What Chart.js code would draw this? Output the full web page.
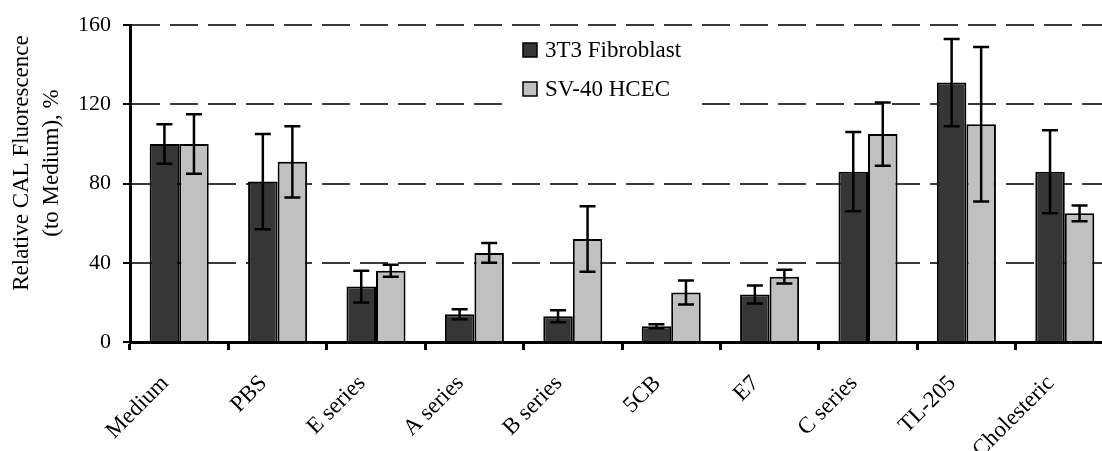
<!DOCTYPE html>
<html>
<head>
<meta charset="utf-8">
<script src="https://cdn.jsdelivr.net/npm/chart.js@4"></script>
<style>
  html, body { margin: 0; padding: 0; background: #fff; overflow: hidden; }
  #wrap { width: 1102px; height: 451px; overflow: hidden; }
</style>
</head>
<body>
<div id="wrap"><canvas id="my-chart" width="1114" height="451"></canvas></div>
<script>
const categories = ["Medium", "PBS", "E series", "A series", "B series", "5CB", "E7", "C series", "TL-205", "Cholesteric"];
const fibroblast = [100, 81, 28, 14, 13, 8, 24, 86, 131, 86];
const fibroblastErr = [10, 24, 8, 2.5, 3, 1, 4.5, 20, 22, 21];
const hcec = [100, 91, 36, 45, 52, 25, 33, 105, 110, 65];
const hcecErr = [15, 18, 3, 5, 16.5, 6, 3.5, 16, 39, 4];
const yTicks = [0, 40, 80, 120, 160];
const yTitle = ["Relative CAL Fluorescence", "(to Medium), %"];

const serif = "'Liberation Serif', 'Times New Roman', serif";

// error bars drawn on top of the bars
const errorBars = {
  id: "errorBars",
  afterDatasetsDraw(chart) {
    const ctx = chart.ctx;
    const y = chart.scales.y;
    chart.data.datasets.forEach((ds, d) => {
      const meta = chart.getDatasetMeta(d);
      meta.data.forEach((bar, i) => {
        const v = ds.data[i];
        const e = ds.errors[i];
        const top = y.getPixelForValue(v + e);
        const bottom = y.getPixelForValue(v - e);
        ctx.save();
        ctx.strokeStyle = "#000";
        ctx.lineWidth = 2.5;
        ctx.beginPath();
        ctx.moveTo(bar.x, top);
        ctx.lineTo(bar.x, bottom);
        ctx.moveTo(bar.x - 8, top);
        ctx.lineTo(bar.x + 8, top);
        ctx.moveTo(bar.x - 8, bottom);
        ctx.lineTo(bar.x + 8, bottom);
        ctx.stroke();
        ctx.restore();
      });
    });
  }
};

// legend box inside the plot and the two-line y title
const extras = {
  id: "extras",
  afterDraw(chart) {
    const ctx = chart.ctx;
    ctx.save();
    ctx.fillStyle = "#fff";
    ctx.fillRect(508, 30, 185, 80);
    chart.data.datasets.forEach((ds, i) => {
      const cy = 50 + i * 39;
      ctx.fillStyle = ds.backgroundColor;
      ctx.fillRect(523, cy - 7, 14, 14);
      ctx.strokeStyle = "#000";
      ctx.lineWidth = 1.5;
      ctx.strokeRect(523, cy - 7, 14, 14);
      ctx.fillStyle = "#000";
      ctx.font = "23px " + serif;
      ctx.textAlign = "left";
      ctx.textBaseline = "middle";
      ctx.fillText(ds.label, 545, cy + 1);
    });

    ctx.font = "23px " + serif;
    ctx.textAlign = "center";
    ctx.textBaseline = "middle";
    ctx.fillStyle = "#000";
    [22, 52].forEach((x, i) => {
      ctx.save();
      ctx.translate(x, 163);
      ctx.rotate(-Math.PI / 2);
      ctx.fillText(yTitle[i], 0, 0);
      ctx.restore();
    });
    ctx.restore();
  }
};

const chart = new Chart(document.getElementById("my-chart"), {
  type: "bar",
  data: {
    labels: categories,
    datasets: [
      {
        label: "3T3 Fibroblast",
        data: fibroblast,
        errors: fibroblastErr,
        backgroundColor: "#363636",
        borderColor: "#000",
        borderWidth: 2,
        borderSkipped: "bottom"
      },
      {
        label: "SV-40 HCEC",
        data: hcec,
        errors: hcecErr,
        backgroundColor: "#c0c0c0",
        borderColor: "#000",
        borderWidth: 2,
        borderSkipped: "bottom"
      }
    ]
  },
  options: {
    responsive: false,
    animation: false,
    layout: { padding: { top: 25, left: 0, right: 0, bottom: 0 } },
    categoryPercentage: 0.6,
    barPercentage: 1.0,
    plugins: {
      legend: { display: false },
      tooltip: { enabled: false }
    },
    scales: {
      x: {
        afterFit(scale) { scale.height = 109; },
        grid: {
          offset: true,
          drawOnChartArea: false,
          drawTicks: true,
          tickLength: 8,
          tickColor: "#000",
          tickWidth: 3
        },
        border: { display: true, color: "#000", width: 3 },
        ticks: {
          autoSkip: false,
          maxRotation: 45,
          minRotation: 45,
          padding: 20,
          labelOffset: -14,
          color: "#000",
          font: { family: serif, size: 23 }
        }
      },
      y: {
        min: 0,
        max: 160,
        afterFit(scale) { scale.width = 130; },
        afterBuildTicks(scale) { scale.ticks = yTicks.map(v => ({ value: v })); },
        grid: {
          color: (c) => (c.tick && c.tick.value === 0 ? "rgba(0,0,0,0)" : "#3c3c3c"),
          lineWidth: 2,
          drawTicks: true,
          tickLength: 7,
          tickColor: "#000",
          tickWidth: 2,
          tickBorderDash: []
        },
        border: { display: true, color: "#000", width: 3, dash: [28, 10] },
        ticks: {
          padding: 12,
          color: "#000",
          font: { family: serif, size: 22 }
        }
      }
    }
  },
  plugins: [errorBars, extras]
});
</script>
</body>
</html>
